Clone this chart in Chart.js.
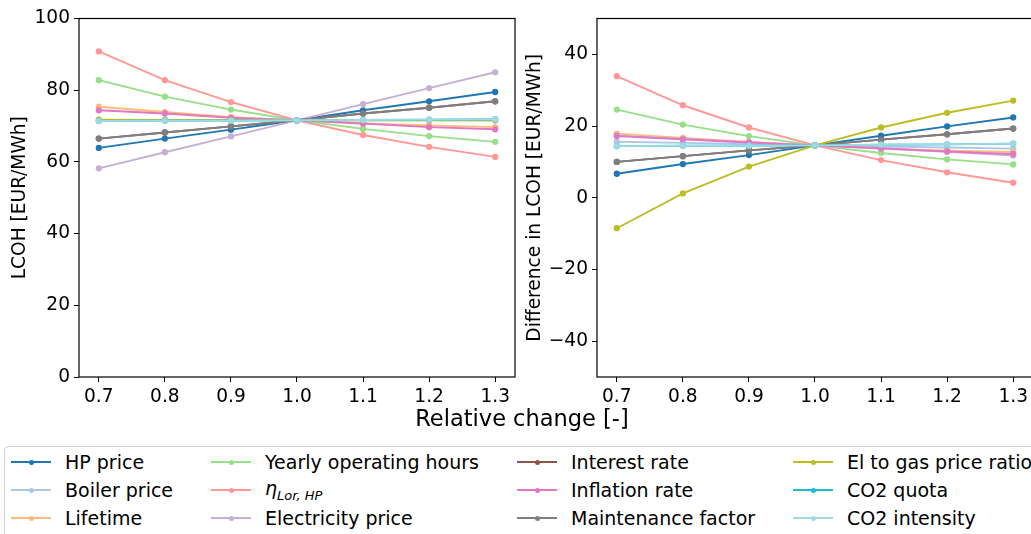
<!DOCTYPE html>
<html lang="en">
<head>
    <meta charset="UTF-8">
    <title>LCOH sensitivity</title>
    <script src="https://cdn.jsdelivr.net/npm/chart.js"></script>
    <style>
        html, body {
            margin: 0;
            padding: 0;
            width: 1031px;
            height: 534px;
            overflow: hidden;
            background: #fff;
            font-family: "DejaVu Sans", sans-serif;
        }
        #leftBox { position: absolute; left: 0; top: 0; width: 540px; height: 440px; }
        #rightBox { position: absolute; left: 520px; top: 0; width: 530px; height: 440px; }
        #xlabel {
            position: absolute; left: 0; width: 1044px; top: 405px;
            text-align: center; font-size: 22.5px; color: #000;
        }
        #legend {
            position: absolute; left: 4px; top: 446px; width: 1060px; height: 100px;
            border: 1px solid #d0d0d0; border-radius: 4px; box-sizing: border-box;
        }
        .item { position: absolute; height: 28px; display: flex; align-items: center; font-size: 19px; color: #000; white-space: nowrap; }
        .swatch { position: relative; width: 40px; height: 2px; margin-right: 14px; }
        .swatch i { position: absolute; left: 17.5px; top: -1.5px; width: 5px; height: 5px; border-radius: 50%; }
    </style>
</head>
<body>
    <div id="leftBox"><canvas id="leftChart"></canvas></div>
    <div id="rightBox"><canvas id="rightChart"></canvas></div>
    <div id="xlabel">Relative change [-]</div>
    <div id="legend"></div>

    <script>
        // relative change (x) values
        const relChange = [0.7, 0.8, 0.9, 1.0, 1.1, 1.2, 1.3];
        const leftYTicks = [0, 20, 40, 60, 80, 100];
        const rightYTicks = [-40, -20, 0, 20, 40];

        const names = ['HP price', 'Boiler price', 'Lifetime', 'Yearly operating hours', 'ηLor,HP',
            'Electricity price', 'Interest rate', 'Inflation rate', 'Maintenance factor',
            'El to gas price ratio', 'CO2 quota', 'CO2 intensity'];
        const colors = ['#1f77b4', '#aec7e8', '#ffbb78', '#98df8a', '#ff9896',
            '#c5b0d5', '#8c564b', '#e377c2', '#7f7f7f', '#bcbd22', '#17becf', '#9edae5'];

        // left: LCOH [EUR/MWh]
        const lcohHpPrice      = [63.9, 66.5, 69.0, 71.6, 74.4, 76.9, 79.5];
        const lcohBoilerPrice  = [71.6, 71.6, 71.6, 71.6, 71.6, 71.6, 71.6];
        const lcohLifetime     = [75.4, 73.9, 72.5, 71.6, 70.7, 70.2, 69.7];
        const lcohYearlyHours  = [82.8, 78.2, 74.6, 71.6, 69.2, 67.2, 65.6];
        const lcohEta          = [90.8, 82.8, 76.7, 71.6, 67.5, 64.2, 61.4];
        const lcohElPrice      = [58.2, 62.7, 67.1, 71.6, 76.1, 80.6, 85.0];
        const lcohInterest     = [66.5, 68.2, 69.9, 71.6, 73.5, 75.1, 76.9];
        const lcohInflation    = [74.4, 73.5, 72.3, 71.6, 70.7, 69.7, 69.1];
        const lcohMaintenance  = [66.5, 68.2, 69.9, 71.6, 73.5, 75.1, 76.9];
        const lcohElGasRatio   = [71.8, 71.7, 71.7, 71.6, 71.6, 71.6, 71.6];
        const lcohCo2Quota     = [71.4, 71.5, 71.5, 71.6, 71.7, 71.8, 71.9];
        const lcohCo2Intensity = [71.4, 71.5, 71.5, 71.6, 71.7, 71.8, 71.9];

        // right: difference in LCOH [EUR/MWh]
        const diffHpPrice      = [6.7, 9.4, 11.9, 14.6, 17.3, 19.9, 22.4];
        const diffBoilerPrice  = [15.6, 15.3, 15.0, 14.6, 14.3, 14.0, 13.7];
        const diffLifetime     = [17.9, 16.7, 15.6, 14.6, 13.7, 13.1, 12.8];
        const diffYearlyHours  = [24.6, 20.4, 17.2, 14.6, 12.5, 10.7, 9.3];
        const diffEta          = [33.9, 25.8, 19.6, 14.6, 10.5, 7.1, 4.2];
        const diffElPrice      = [17.4, 16.4, 15.5, 14.6, 13.7, 12.8, 11.8];
        const diffInterest     = [10.0, 11.6, 13.2, 14.6, 16.2, 17.7, 19.3];
        const diffInflation    = [17.2, 16.3, 15.4, 14.6, 13.8, 12.9, 12.2];
        const diffMaintenance  = [10.0, 11.6, 13.2, 14.6, 16.2, 17.7, 19.3];
        const diffElGasRatio   = [-8.5, 1.2, 8.7, 14.6, 19.6, 23.7, 27.1];
        const diffCo2Quota     = [14.4, 14.5, 14.5, 14.6, 14.8, 14.9, 15.1];
        const diffCo2Intensity = [14.4, 14.5, 14.5, 14.6, 14.8, 14.9, 15.1];

        const leftSeries = [lcohHpPrice, lcohBoilerPrice, lcohLifetime, lcohYearlyHours, lcohEta,
            lcohElPrice, lcohInterest, lcohInflation, lcohMaintenance, lcohElGasRatio, lcohCo2Quota, lcohCo2Intensity];
        const rightSeries = [diffHpPrice, diffBoilerPrice, diffLifetime, diffYearlyHours, diffEta,
            diffElPrice, diffInterest, diffInflation, diffMaintenance, diffElGasRatio, diffCo2Quota, diffCo2Intensity];

        const FONT = { family: 'DejaVu Sans', size: 18.6 };

        // draws the full box around the plot area
        const frame = {
            id: 'frame',
            afterDraw(chart) {
                const a = chart.chartArea, ctx = chart.ctx;
                ctx.save();
                ctx.strokeStyle = '#000';
                ctx.lineWidth = 1.2;
                ctx.strokeRect(a.left, a.top, a.right - a.left, a.bottom - a.top);
                ctx.restore();
            }
        };

        function makeChart(id, series, yMin, yMax, yTicks, yTitle, yWidth, titlePad, padRight) {
            const datasets = series.map((vals, i) => ({
                label: names[i],
                data: relChange.map((x, k) => ({ x: x, y: vals[k] })),
                borderColor: colors[i],
                backgroundColor: colors[i],
                borderWidth: 1.9,
                pointRadius: 2.2,
                pointHoverRadius: 2.2,
                order: -i
            }));
            return new Chart(document.getElementById(id), {
                type: 'line',
                data: { datasets: datasets },
                plugins: [frame],
                options: {
                    responsive: true,
                    maintainAspectRatio: false,
                    animation: false,
                    layout: { padding: { left: 0, top: 18.5, right: padRight, bottom: 0 } },
                    plugins: { legend: { display: false }, tooltip: { enabled: false } },
                    scales: {
                        x: {
                            type: 'linear',
                            min: 0.67,
                            max: 1.33,
                            afterBuildTicks: s => { s.ticks = relChange.map(v => ({ value: v })); },
                            afterFit: s => { s.height = 63; },
                            ticks: { color: '#000', font: FONT, padding: 4, maxRotation: 0,
                                callback: v => v.toFixed(1) },
                            grid: { drawOnChartArea: false, drawTicks: true, tickLength: 5, color: '#000' },
                            border: { display: false }
                        },
                        y: {
                            min: yMin,
                            max: yMax,
                            afterBuildTicks: s => { s.ticks = yTicks.map(v => ({ value: v })); },
                            afterFit: s => { s.width = yWidth; },
                            ticks: { color: '#000', font: FONT, padding: 4,
                                callback: v => (v < 0 ? '\u2212' + Math.abs(v) : String(v)) },
                            grid: { drawOnChartArea: false, drawTicks: true, tickLength: 5, color: '#000' },
                            border: { display: false },
                            title: { display: true, text: yTitle, color: '#000', font: FONT,
                                padding: { top: titlePad, bottom: 0 } }
                        }
                    }
                }
            });
        }

        makeChart('leftChart', leftSeries, 0, 100, leftYTicks, 'LCOH [EUR/MWh]', 79, 9, 25);
        makeChart('rightChart', rightSeries, -50, 50, rightYTicks, 'Difference in LCOH [EUR/MWh]', 77, 4, 17);

        // legend, 4 columns x 3 rows
        const colX = [6, 206, 512, 788];
        const legend = document.getElementById('legend');
        names.forEach((n, i) => {
            const col = Math.floor(i / 3), row = i % 3;
            const div = document.createElement('div');
            div.className = 'item';
            div.style.left = colX[col] + 'px';
            div.style.top = (1 + row * 28) + 'px';
            const label = n === 'ηLor,HP' ? '<i>η</i><sub style="font-size:13px"><i>Lor, HP</i></sub>' : n;
            div.innerHTML = '<span class="swatch" style="background:' + colors[i] + '"><i style="background:' +
                colors[i] + '"></i></span><span>' + label + '</span>';
            legend.appendChild(div);
        });
    </script>
</body>
</html>
